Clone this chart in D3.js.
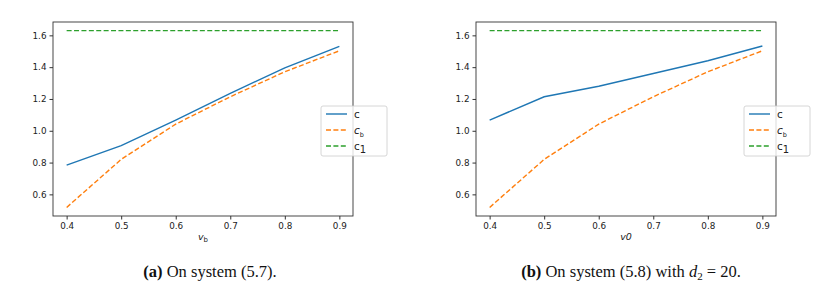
<!DOCTYPE html>
<meta charset="utf-8">
<style>
  body { margin: 0; background: #fff; }
  .tick text { font: 8.8px "DejaVu Sans", sans-serif; fill: #222; }
  .caption { font-family: "Liberation Serif", serif; font-size: 16.5px; fill: #111; }
  .leg text { font: 10.5px "DejaVu Sans", sans-serif; fill: #222; }
</style>
<body>
<script src="https://cdn.jsdelivr.net/npm/d3@7"></script>
<script>
  // values
  var xs = [0.4, 0.5, 0.6, 0.7, 0.8, 0.9];
  var cA = [0.784, 0.906, 1.067, 1.235, 1.396, 1.531];
  var cbA = [0.518, 0.82, 1.042, 1.214, 1.371, 1.503];
  var cB = [1.067, 1.214, 1.28, 1.36, 1.44, 1.533];
  var cbB = [0.518, 0.82, 1.042, 1.214, 1.371, 1.503];
  var c1 = 1.63;
  var yTicks = [0.6, 0.8, 1.0, 1.2, 1.4, 1.6];
  var xTicks = [0.4, 0.5, 0.6, 0.7, 0.8, 0.9];

  var svg = d3.select("body").append("svg")
    .attr("width", 829).attr("height", 290);

  function panel(left, c, cb, xlab, caption, capX, legX) {
    var w = 300, h = 194, top = 22;
    var g = svg.append("g").attr("transform", "translate(" + left + "," + top + ")");

    var x = d3.scaleLinear().domain([0.375, 0.925]).range([0, w]);
    var y = d3.scaleLinear().domain([0.464, 1.684]).range([h, 0]);

    var xAxis = d3.axisBottom(x).tickValues(xTicks).tickFormat(d3.format(".1f")).tickSize(3.5).tickPadding(3);
    var yAxis = d3.axisLeft(y).tickValues(yTicks).tickFormat(d3.format(".1f")).tickSize(3.5).tickPadding(3);

    g.append("g").attr("transform", "translate(0," + h + ")").call(xAxis)
      .call(function(s) { s.select(".domain").remove(); s.selectAll("line").attr("stroke", "#333"); });
    g.append("g").call(yAxis)
      .call(function(s) { s.select(".domain").remove(); s.selectAll("line").attr("stroke", "#333"); });

    var line = d3.line().x(function(d, i) { return x(xs[i]); }).y(function(d) { return y(d); });

    g.append("path").datum(c).attr("d", line)
      .attr("fill", "none").attr("stroke", "#1f77b4").attr("stroke-width", 1.4);
    g.append("path").datum(cb).attr("d", line)
      .attr("fill", "none").attr("stroke", "#ff7f0e").attr("stroke-width", 1.4)
      .attr("stroke-dasharray", "5,2.4");
    g.append("path").datum(xs.map(function() { return c1; })).attr("d", line)
      .attr("fill", "none").attr("stroke", "#2ca02c").attr("stroke-width", 1.4)
      .attr("stroke-dasharray", "5,2.4");

    g.append("rect").attr("width", w).attr("height", h)
      .attr("fill", "none").attr("stroke", "#333").attr("stroke-width", 0.9);

    // x label
    var xl = g.append("text").attr("x", w / 2).attr("y", h + 24)
      .attr("text-anchor", "middle")
      .style("font", "italic 9.5px 'DejaVu Sans', sans-serif").style("fill", "#222");
    xl.append("tspan").text(xlab[0]);
    if (xlab[1]) xl.append("tspan").attr("dy", 2).style("font-style", "normal").style("font-size", "7px").text(xlab[1]);

    // legend
    var lg = g.append("g").attr("class", "leg").attr("transform", "translate(" + (legX - left) + "," + (106 - top) + ")");
    lg.append("rect").attr("width", 66).attr("height", 50).attr("rx", 2)
      .attr("fill", "#fff").attr("fill-opacity", 0.8).attr("stroke", "#ccc").attr("stroke-width", 0.8);
    var items = [
      { col: "#1f77b4", dash: null, name: "c", sub: "" },
      { col: "#ff7f0e", dash: "5,2.4", name: "c", sub: "b" },
      { col: "#2ca02c", dash: "5,2.4", name: "c", sub: "1" }
    ];
    items.forEach(function(it, i) {
      var yy = 8 + i * 16;
      lg.append("line").attr("x1", 5).attr("x2", 26).attr("y1", yy).attr("y2", yy)
        .attr("stroke", it.col).attr("stroke-width", 1.4).attr("stroke-dasharray", it.dash);
      var t = lg.append("text").attr("x", 33).attr("y", yy + 4);
      t.append("tspan").style("font-style", i == 1 ? "italic" : "normal").text(it.name);
      if (it.sub) t.append("tspan").attr("dy", 3).style("font-size", i == 1 ? "6.5px" : "10px").text(it.sub);
    });

    // caption
    var cap = svg.append("text").attr("class", "caption").attr("x", capX).attr("y", 277)
      .attr("text-anchor", "middle");
    caption(cap);
  }

  panel(53, cA, cbA, ["v", "b"], function(t) {
    t.append("tspan").style("font-weight", "bold").text("(a)");
    t.append("tspan").text(" On system (5.7).");
  }, 210, 321);

  panel(476, cB, cbB, ["v0", ""], function(t) {
    t.append("tspan").style("font-weight", "bold").text("(b)");
    t.append("tspan").text(" On system (5.8) with ");
    t.append("tspan").style("font-style", "italic").text("d");
    t.append("tspan").attr("dy", 3).style("font-size", "11px").text("2");
    t.append("tspan").attr("dy", -3).text(" = 20.");
  }, 631, 744);
</script>
</body>
